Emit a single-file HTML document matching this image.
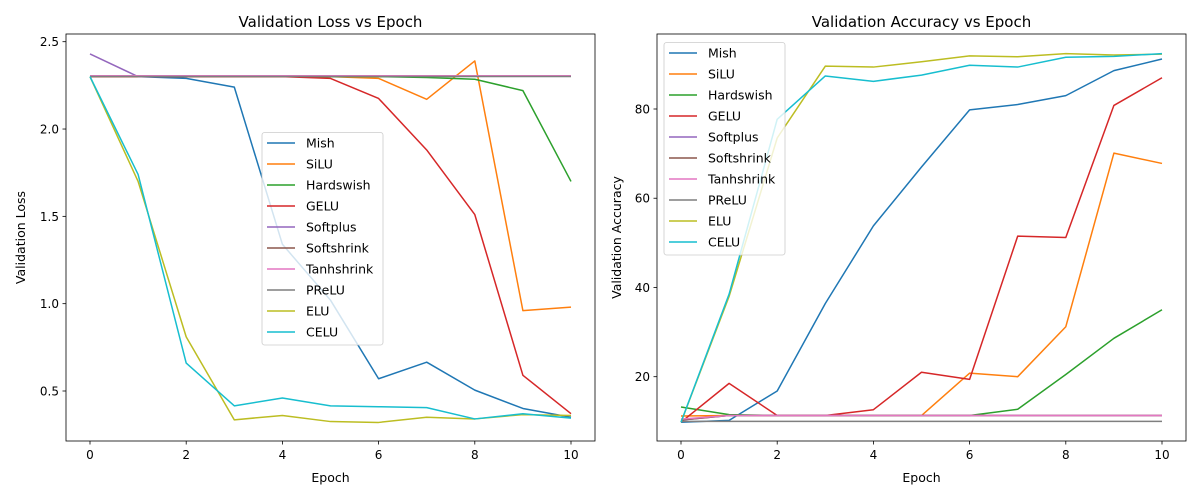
<!DOCTYPE html>
<html><head><meta charset="utf-8"><style>
html,body{margin:0;padding:0;background:#fff;}
svg{display:block;font-family:"DejaVu Sans","Liberation Sans",sans-serif;}
</style></head><body>
<svg id="c" width="1200" height="500" xmlns="http://www.w3.org/2000/svg"></svg>
<script>
const epochs=[0,1,2,3,4,5,6,7,8,9,10];
const names=["Mish","SiLU","Hardswish","GELU","Softplus","Softshrink","Tanhshrink","PReLU","ELU","CELU"];
const colors=["#1f77b4","#ff7f0e","#2ca02c","#d62728","#9467bd","#8c564b","#e377c2","#7f7f7f","#bcbd22","#17becf"];
const lossMish=[2.30,2.30,2.29,2.24,1.34,1.02,0.57,0.665,0.505,0.40,0.35];
const lossSiLU=[2.30,2.30,2.30,2.30,2.30,2.30,2.29,2.17,2.39,0.96,0.98];
const lossHardswish=[2.30,2.30,2.30,2.30,2.30,2.30,2.30,2.295,2.285,2.22,1.70];
const lossGELU=[2.30,2.30,2.30,2.30,2.30,2.29,2.175,1.88,1.51,0.59,0.37];
const lossSoftplus=[2.43,2.30,2.303,2.303,2.303,2.303,2.303,2.303,2.303,2.303,2.303];
const lossSoftshrink=[2.303,2.303,2.303,2.303,2.303,2.303,2.303,2.303,2.303,2.303,2.303];
const lossTanhshrink=[2.305,2.305,2.305,2.305,2.305,2.305,2.305,2.305,2.305,2.305,2.305];
const lossPReLU=[2.301,2.301,2.301,2.301,2.301,2.301,2.301,2.301,2.301,2.301,2.301];
const lossELU=[2.30,1.70,0.81,0.335,0.36,0.325,0.32,0.35,0.34,0.365,0.36];
const lossCELU=[2.30,1.74,0.66,0.415,0.46,0.415,0.41,0.405,0.34,0.37,0.345];
const accMish=[9.8,10.2,16.8,36.4,53.8,67,79.8,81,83,88.6,91.2];
const accSiLU=[11.2,11.3,11.3,11.3,11.3,11.3,20.8,20,31.2,70.1,67.8];
const accHardswish=[13.2,11.5,11.3,11.3,11.3,11.3,11.3,12.7,20.5,28.6,35];
const accGELU=[9.8,18.5,11.3,11.3,12.6,21,19.4,51.5,51.2,80.8,87];
const accSoftplus=[10.3,11.3,11.3,11.3,11.3,11.3,11.3,11.3,11.3,11.3,11.3];
const accSoftshrink=[10.3,11.3,11.3,11.3,11.3,11.3,11.3,11.3,11.3,11.3,11.3];
const accTanhshrink=[10.5,11.3,11.3,11.3,11.3,11.3,11.3,11.3,11.3,11.3,11.3];
const accPReLU=[10,10,10,10,10,10,10,10,10,10,10];
const accELU=[9.8,38,73.5,89.6,89.4,90.6,91.9,91.7,92.4,92.1,92.3];
const accCELU=[9.8,38.5,77.7,87.4,86.2,87.6,89.8,89.4,91.6,91.8,92.4];
const xTicks=[0,2,4,6,8,10];
const lossTicks=[0.5,1.0,1.5,2.0,2.5];
const accTicks=[20,40,60,80];

const NS="http://www.w3.org/2000/svg";
const svg=document.getElementById('c');
function el(t,a,p){const e=document.createElementNS(NS,t);for(const k in a)e.setAttribute(k,a[k]);(p||svg).appendChild(e);return e;}

function panel(o){
  const g=el('g',{});
  
  
  const L=o.L,R=o.R,T=34,B=441;
  const sx=v=>o.x0+(v-0)*(o.x10-o.x0)/10;
  const sy=v=>o.ya+(v-o.va)*(o.yb-o.ya)/(o.vb-o.va);
  const lg=el('g',{},g);
  
  
  o.series.forEach((s,i)=>{
    const d=s.map((v,j)=>(j?'L':'M')+sx(epochs[j]).toFixed(2)+' '+sy(v).toFixed(2)).join(' ');
    const p=el('path',{d:d,fill:'none',stroke:colors[i],'stroke-width':1.5,'stroke-linejoin':'round'},lg);
    
    
  });
  const f=el('rect',{x:L,y:T,width:R-L,height:B-T,fill:'none',stroke:'#000','stroke-width':0.8},g);
  
  
  xTicks.forEach(v=>{
    const x=sx(v);
    el('line',{x1:x,x2:x,y1:B,y2:B+3.5,stroke:'#000','stroke-width':0.8},g);
    const t=el('text',{x:x,y:B+18,'font-size':12,'text-anchor':'middle',fill:'#000'},g);
    t.textContent=v;
    
    
  });
  o.yTicks.forEach(v=>{
    const y=sy(v);
    el('line',{x1:L-3.5,x2:L,y1:y,y2:y,stroke:'#000','stroke-width':0.8},g);
    const t=el('text',{x:L-7,y:y+4.5,'font-size':12,'text-anchor':'end',fill:'#000'},g);
    t.textContent=o.fmt(v);
    
    
  });
  const xt=el('text',{x:(L+R)/2,y:482,'font-size':12.5,'text-anchor':'middle'},g);
  xt.textContent='Epoch';
  
  
  const yt=el('text',{x:0,y:0,'font-size':12.5,'text-anchor':'middle',transform:`translate(${o.ytx},${(T+B)/2}) rotate(-90)`},g);
  yt.textContent=o.ylabel;
  
  
  const tt=el('text',{x:(L+R)/2,y:27,'font-size':15,'text-anchor':'middle'},g);
  tt.textContent=o.title;
  
  
  const lgd=el('g',{},g);
  
  
  el('rect',{x:o.lx,y:o.ly,width:121,height:212.5,rx:2.5,fill:'#fff','fill-opacity':0.8,stroke:'#ccc','stroke-width':0.8},lgd);
  names.forEach((n,i)=>{
    const e=el('g',{},lgd);
    
    
    const y=o.ly+10.5+i*21;
    el('line',{x1:o.lx+5,x2:o.lx+33,y1:y,y2:y,stroke:colors[i],'stroke-width':1.5},e);
    const t=el('text',{x:o.lx+44,y:y+4.5,'font-size':12.5},e);
    t.textContent=n;
  });
}
panel({id:'loss',L:66,R:595,x0:90,x10:571,ya:391,va:0.5,yb:41.7,vb:2.5,yTicks:lossTicks,fmt:v=>v.toFixed(1),
  series:[lossMish,lossSiLU,lossHardswish,lossGELU,lossSoftplus,lossSoftshrink,lossTanhshrink,lossPReLU,lossELU,lossCELU],
  ylabel:'Validation Loss',ytx:25,title:'Validation Loss vs Epoch',lx:262,ly:132.5});
panel({id:'accuracy',L:657,R:1186,x0:681,x10:1162,ya:376.7,va:20,yb:109,vb:80,yTicks:accTicks,fmt:v=>v,
  series:[accMish,accSiLU,accHardswish,accGELU,accSoftplus,accSoftshrink,accTanhshrink,accPReLU,accELU,accCELU],
  ylabel:'Validation Accuracy',ytx:621,title:'Validation Accuracy vs Epoch',lx:664,ly:42.5});
</script>
</body></html>
